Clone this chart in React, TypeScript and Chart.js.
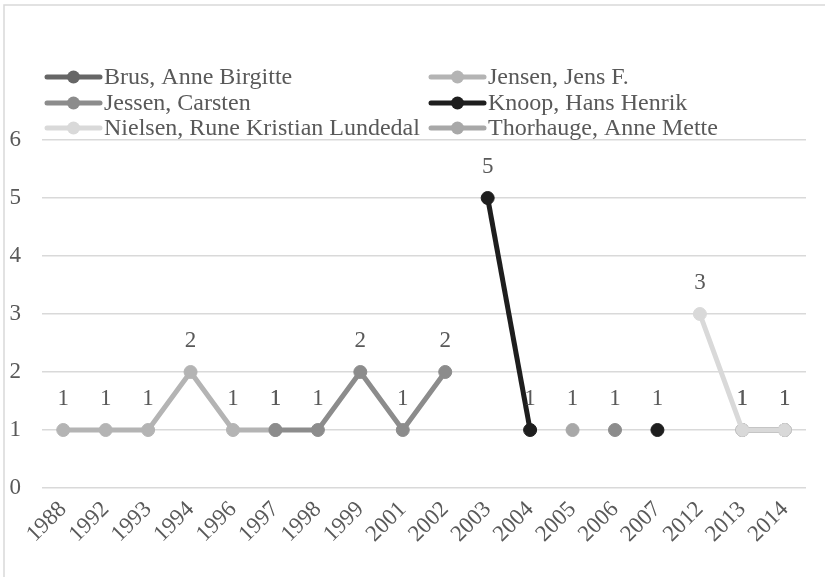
import React, { useEffect, useRef } from "react";
import { Chart, registerables } from "chart.js";

Chart.register(...registerables);

const categories = ["1988", "1992", "1993", "1994", "1996", "1997", "1998", "1999", "2001", "2002", "2003", "2004", "2005", "2006", "2007", "2012", "2013", "2014"];

const seriesNames = [
  "Brus, Anne Birgitte",
  "Jensen, Jens F.",
  "Jessen, Carsten",
  "Knoop, Hans Henrik",
  "Nielsen, Rune Kristian Lundedal",
  "Thorhauge, Anne Mette",
];
const seriesColors = ["#666666", "#b4b4b4", "#8c8c8c", "#1e1e1e", "#d9d9d9", "#a8a8a8"];

const n = null;
const brus = [n, n, n, n, n, n, n, n, n, n, n, n, n, n, n, n, 1, 1];
const jensen = [1, 1, 1, 2, 1, 1, n, n, n, n, n, n, n, n, n, n, n, n];
const jessen = [n, n, n, n, n, 1, 1, 2, 1, 2, n, n, n, 1, n, n, n, n];
const knoop = [n, n, n, n, n, n, n, n, n, n, 5, 1, n, n, 1, n, n, n];
const nielsen = [n, n, n, n, n, n, n, n, n, n, n, n, n, n, n, 3, 1, 1];
const thorhauge = [n, n, n, n, n, n, n, n, n, n, n, n, 1, n, n, n, n, n];
const seriesValues = [brus, jensen, jessen, knoop, nielsen, thorhauge];

const yTicks = [0, 1, 2, 3, 4, 5, 6];

const FONT = '"Liberation Serif"';
const TEXT = "#595959";

const framePlugin = {
  id: "frame",
  beforeDraw(chart: any) {
    const ctx = chart.ctx;
    ctx.save();
    ctx.strokeStyle = "#d9d9d9";
    ctx.lineWidth = 1.5;
    ctx.beginPath();
    ctx.moveTo(4, chart.height);
    ctx.lineTo(4, 5);
    ctx.lineTo(chart.width, 5);
    ctx.stroke();
    ctx.restore();
  },
};

const legendPlugin = {
  id: "customLegend",
  afterDraw(chart: any) {
    const ctx = chart.ctx;
    const cols = [45, 429];
    const rows = [77, 103, 128];
    ctx.save();
    chart.data.datasets.forEach((ds: any, i: number) => {
      const x = cols[i % 2];
      const y = rows[Math.floor(i / 2)];
      ctx.strokeStyle = ds.borderColor;
      ctx.lineWidth = 5;
      ctx.lineCap = "round";
      ctx.beginPath();
      ctx.moveTo(x + 2, y);
      ctx.lineTo(x + 55, y);
      ctx.stroke();
      ctx.fillStyle = ds.borderColor;
      ctx.beginPath();
      ctx.arc(x + 28.5, y, 6.5, 0, Math.PI * 2);
      ctx.fill();
      ctx.fillStyle = TEXT;
      ctx.font = `24px ${FONT}`;
      ctx.textAlign = "left";
      ctx.textBaseline = "middle";
      ctx.fillText(ds.label, x + 59, y + 1);
    });
    ctx.restore();
  },
};

const labelPlugin = {
  id: "valueLabels",
  afterDatasetsDraw(chart: any) {
    const ctx = chart.ctx;
    ctx.save();
    ctx.fillStyle = TEXT;
    ctx.font = `23px ${FONT}`;
    ctx.textAlign = "center";
    ctx.textBaseline = "middle";
    chart.data.datasets.forEach((ds: any, i: number) => {
      const meta = chart.getDatasetMeta(i);
      ds.data.forEach((v: any, j: number) => {
        if (v === null || v === undefined) return;
        const pt = meta.data[j];
        ctx.fillText(String(v), pt.x, pt.y - 31);
      });
    });
    ctx.restore();
  },
};

export default function App() {
  const ref = useRef<HTMLCanvasElement | null>(null);
  useEffect(() => {
    if (!ref.current) return;
    const chart = new Chart(ref.current, {
      type: "line",
      data: {
        labels: categories,
        datasets: seriesValues.map((vals, i) => ({
          label: seriesNames[i],
          data: vals,
          borderColor: seriesColors[i],
          backgroundColor: seriesColors[i],
          pointBackgroundColor: seriesColors[i],
          pointBorderColor: seriesColors[i],
          borderWidth: 5,
          pointRadius: 6.5,
          pointBorderWidth: 1,
          pointHoverRadius: 6.5,
          spanGaps: false,
          tension: 0,
          order: seriesValues.length - i,
        })),
      },
      options: {
        responsive: false,
        animation: false,
        layout: { padding: { top: 140, right: 19, left: 0, bottom: 0 } },
        plugins: {
          legend: { display: false },
          tooltip: { enabled: false },
        },
        scales: {
          x: {
            offset: true,
            grid: { display: false },
            border: { display: false },
            ticks: {
              minRotation: 45,
              maxRotation: 45,
              autoSkip: false,
              padding: 0,
              color: TEXT,
              font: { family: FONT, size: 23 },
            },
            afterFit(scale: any) {
              scale.height = 89;
            },
          },
          y: {
            min: 0,
            max: 6,
            afterBuildTicks(scale: any) {
              scale.ticks = yTicks.map((v) => ({ value: v }));
            },
            grid: { color: "#d9d9d9", lineWidth: 1.5, drawTicks: false },
            border: { display: false },
            ticks: {
              padding: 21,
              color: TEXT,
              font: { family: FONT, size: 23 },
            },
            afterFit(scale: any) {
              scale.width = 42;
            },
          },
        },
      },
      plugins: [framePlugin, legendPlugin, labelPlugin],
    });
    return () => chart.destroy();
  }, []);
  return (
    <canvas
      ref={ref}
      width={825}
      height={577}
      style={{ position: "absolute", left: 0, top: 0, background: "#ffffff" }}
    />
  );
}
